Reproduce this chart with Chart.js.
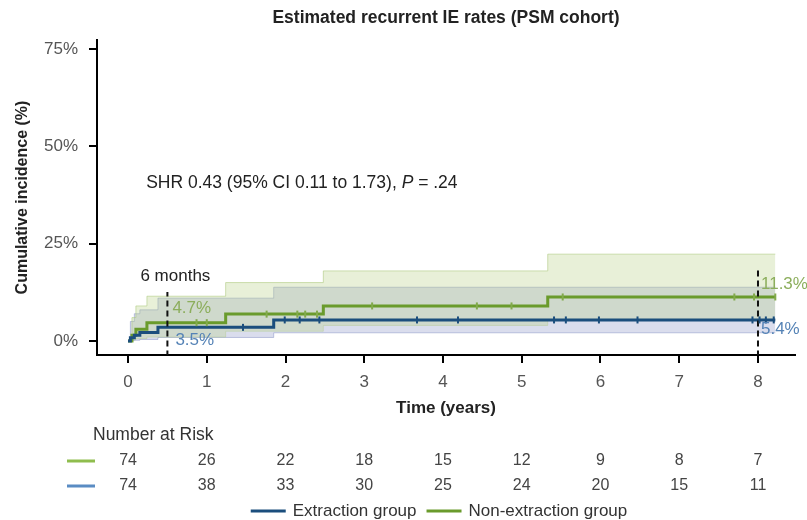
<!DOCTYPE html>
<html>
<head>
<meta charset="utf-8">
<script src="https://cdn.jsdelivr.net/npm/chart.js@4.4.1/dist/chart.umd.min.js"></script>
<style>
  html, body { margin: 0; padding: 0; background: #fff; }
  #wrap { width: 807px; height: 520px; }
</style>
</head>
<body>
<div id="wrap"><canvas id="cif" width="807" height="520"></canvas></div>
<script>
// Cumulative incidence step estimates: time in years, incidence in %
const nonExtTime  = [0, 0.05, 0.10, 0.24, 1.24, 2.48, 5.33, 8.22];
const nonExtCif   = [0, 1.5, 3.0, 4.7, 6.9, 9.0, 11.3, 11.3];
const nonExtUpper = [0, 6.0, 9.0, 11.5, 15.0, 18.0, 22.3, 22.3];
const nonExtLower = [0, 0.3, 0.6, 1.0, 2.5, 4.0, 5.5, 5.5];

const extTime  = [0, 0.03, 0.08, 0.15, 0.38, 1.85, 8.22];
const extCif   = [0, 0.8, 1.5, 2.2, 3.5, 5.4, 5.4];
const extUpper = [0, 5.0, 7.0, 8.0, 11.0, 13.8, 13.8];
const extLower = [0, 0.1, 0.2, 0.4, 0.9, 2.1, 2.1];

// censoring times
const nonExtCensor = [0.87, 1.0, 1.76, 2.15, 2.25, 2.4, 3.1, 4.43, 4.87, 5.52, 7.7, 7.95, 8.22];
const extCensor = [1.46, 1.99, 2.18, 2.43, 3.67, 4.19, 5.41, 5.56, 5.98, 6.47, 7.93, 8.02, 8.1, 8.2];

// landmark times (years)
const landmarks = [0.5, 8];

// axes
const xTicks = [0, 1, 2, 3, 4, 5, 6, 7, 8];
const yTicks = [0, 25, 50, 75];

// number at risk at each x tick
const riskNonExt = [74, 26, 22, 18, 15, 12, 9, 8, 7];
const riskExt    = [74, 38, 33, 30, 25, 24, 20, 15, 11];

const BLUE = '#1b4e7d', GREEN = '#6a9b2c';
const BLUE_TXT = '#5583b6', GREEN_TXT = '#8cae5c';
const FONT = "'Liberation Sans', Arial, sans-serif";

function stepAt(times, vals, t) {
  let v = vals[0];
  for (let i = 0; i < times.length; i++) if (times[i] <= t) v = vals[i];
  return v;
}
const pts = (xs, ys) => xs.map((x, i) => ({ x: x, y: ys[i] }));
const censorPts = (cs, xs, ys) => cs.map(t => ({ x: t, y: stepAt(xs, ys, t) }));

// stepped 'before' keeps each value flat until the next event time
const band = (data, fill, line, bg) => ({
  data: data, stepped: 'before', fill: fill, pointRadius: 0,
  borderWidth: 1, borderColor: line, backgroundColor: bg || 'rgba(0,0,0,0)', order: 10
});

const datasets = [
  // 0,1 non-extraction CI band
  band(pts(nonExtTime, nonExtUpper), { target: 1 }, 'rgba(170,198,120,0.55)', 'rgba(185,208,135,0.32)'),
  band(pts(nonExtTime, nonExtLower), false, 'rgba(170,198,120,0.35)'),
  // 2,3 extraction CI band
  band(pts(extTime, extUpper), { target: 3 }, 'rgba(120,132,190,0.45)', 'rgba(118,128,190,0.27)'),
  band(pts(extTime, extLower), false, 'rgba(120,132,190,0.45)'),
  // 4,5 estimates
  { label: 'Extraction group', data: pts(extTime, extCif), stepped: 'before', fill: false,
    borderColor: BLUE, backgroundColor: BLUE, borderWidth: 3, pointRadius: 0, order: 1 },
  { label: 'Non-extraction group', data: pts(nonExtTime, nonExtCif), stepped: 'before', fill: false,
    borderColor: GREEN, backgroundColor: GREEN, borderWidth: 3, pointRadius: 0, order: 2 },
  // 6,7 censor marks
  { data: censorPts(extCensor, extTime, extCif), showLine: false, pointStyle: 'line', rotation: 90,
    pointRadius: 3.5, borderColor: BLUE, borderWidth: 2, order: 0 },
  { data: censorPts(nonExtCensor, nonExtTime, nonExtCif), showLine: false, pointStyle: 'line', rotation: 90,
    pointRadius: 3.5, borderColor: '#82aa4c', borderWidth: 2, order: 0 },
  // 8,9 landmark lines
  { data: [{ x: landmarks[0], y: -4 }, { x: landmarks[0], y: 12.6 }], borderColor: '#111',
    borderWidth: 2, borderDash: [6, 4], pointRadius: 0, fill: false, order: 0 },
  { data: [{ x: landmarks[1], y: -4 }, { x: landmarks[1], y: 18.6 }], borderColor: '#111',
    borderWidth: 2, borderDash: [6, 4], pointRadius: 0, fill: false, order: 0 }
];

// text annotations, number-at-risk table and legend
const extras = {
  id: 'extras',
  afterDatasetsDraw(chart) {
    const { ctx, scales: { x, y } } = chart;
    ctx.save();
    ctx.textBaseline = 'middle';

    ctx.font = '17px ' + FONT;
    ctx.fillStyle = '#222';
    ctx.textAlign = 'center';
    ctx.fillText('6 months', x.getPixelForValue(landmarks[0]) + 8, y.getPixelForValue(16.7));

    const g6 = stepAt(nonExtTime, nonExtCif, landmarks[0]);
    const b6 = stepAt(extTime, extCif, landmarks[0]);
    const g8 = stepAt(nonExtTime, nonExtCif, landmarks[1]);
    const b8 = stepAt(extTime, extCif, landmarks[1]);
    ctx.textAlign = 'left';
    ctx.font = '17px ' + FONT;
    ctx.fillStyle = GREEN_TXT;
    ctx.fillText(g6.toFixed(1) + '%', x.getPixelForValue(landmarks[0]) + 5, y.getPixelForValue(g6) - 14);
    ctx.fillText(g8.toFixed(1) + '%', x.getPixelForValue(landmarks[1]) + 3, y.getPixelForValue(g8) - 13);
    ctx.fillStyle = BLUE_TXT;
    ctx.fillText(b6.toFixed(1) + '%', x.getPixelForValue(landmarks[0]) + 8, y.getPixelForValue(b6) + 13);
    ctx.fillText(b8.toFixed(1) + '%', x.getPixelForValue(landmarks[1]) + 3, y.getPixelForValue(b8) + 9);

    // SHR line with italic P
    let tx = x.getPixelForValue(0.23);
    const ty = y.getPixelForValue(40.5);
    ctx.fillStyle = '#222';
    ctx.font = '17.5px ' + FONT;
    const head = 'SHR 0.43 (95% CI 0.11 to 1.73), ';
    ctx.fillText(head, tx, ty);
    tx += ctx.measureText(head).width;
    ctx.font = 'italic 17.5px ' + FONT;
    ctx.fillText('P', tx, ty);
    tx += ctx.measureText('P').width;
    ctx.font = '17.5px ' + FONT;
    ctx.fillText(' = .24', tx, ty);
    ctx.restore();
  },
  afterDraw(chart) {
    const { ctx, chartArea, scales: { x } } = chart;
    const base = chartArea.bottom;
    ctx.save();
    ctx.textBaseline = 'middle';
    ctx.font = '17.5px ' + FONT;
    ctx.fillStyle = '#333';
    ctx.textAlign = 'left';
    ctx.fillText('Number at Risk', 93, base + 80);
    ctx.font = '16px ' + FONT;
    [[riskNonExt, '#8fbd4e', 106], [riskExt, '#5a8cc3', 131]].forEach(([row, col, dy]) => {
      ctx.fillStyle = col;
      ctx.fillRect(67, base + dy - 1.5, 28, 3);
      ctx.fillStyle = '#444';
      ctx.textAlign = 'center';
      row.forEach((n, i) => ctx.fillText(String(n), x.getPixelForValue(xTicks[i]), base + dy));
    });

    // legend for the two estimate lines
    const items = [4, 5].map(i => chart.data.datasets[i]);
    ctx.font = '17px ' + FONT;
    const sw = 35, gapTxt = 7, gapItem = 10;
    const widths = items.map(d => ctx.measureText(d.label).width);
    const total = widths.reduce((a, w) => a + sw + gapTxt + w, 0) + gapItem * (items.length - 1);
    let lx = (chartArea.left + chartArea.right) / 2 - 7 - total / 2;
    const ly = base + 156;
    ctx.textAlign = 'left';
    items.forEach((d, i) => {
      ctx.fillStyle = d.borderColor;
      ctx.fillRect(lx, ly - 1.5, sw, 3);
      lx += sw + gapTxt;
      ctx.fillStyle = '#333';
      ctx.fillText(d.label, lx, ly);
      lx += widths[i] + gapItem;
    });
    ctx.restore();
  }
};

new Chart(document.getElementById('cif'), {
  type: 'line',
  data: { datasets: datasets },
  plugins: [extras],
  options: {
    responsive: false,
    animation: false,
    layout: { padding: { left: 0, right: 12, top: 0, bottom: 0 } },
    plugins: {
      tooltip: { enabled: false },
      legend: { display: false },
      title: {
        display: true, text: 'Estimated recurrent IE rates (PSM cohort)', fullSize: false,
        color: '#222', font: { family: FONT, size: 17.5, weight: 'bold' },
        padding: { top: 8, bottom: 11 }
      }
    },
    scales: {
      x: {
        type: 'linear', min: -0.394, max: 8.47,
        afterBuildTicks: s => { s.ticks = xTicks.map(v => ({ value: v })); },
        afterFit: s => { s.height = 165; },
        border: { display: true, color: '#000', width: 2 },
        grid: { drawOnChartArea: false, drawTicks: true, tickLength: 8, color: '#000', lineWidth: 2 },
        ticks: { color: '#555', padding: 9, font: { family: FONT, size: 17 } },
        title: {
          display: true, text: 'Time (years)', color: '#222',
          font: { family: FONT, size: 17, weight: 'bold' }, padding: { top: 4, bottom: 101 }
        }
      },
      y: {
        type: 'linear', min: -3.6, max: 77.3,
        afterBuildTicks: s => { s.ticks = yTicks.map(v => ({ value: v })); },
        afterFit: s => { s.width = 97; },
        border: { display: true, color: '#000', width: 2 },
        grid: { drawOnChartArea: false, drawTicks: true, tickLength: 8, color: '#000', lineWidth: 2 },
        ticks: { color: '#555', padding: 11, font: { family: FONT, size: 17 }, callback: v => v + '%' },
        title: {
          display: true, text: 'Cumulative incidence (%)', color: '#222',
          font: { family: FONT, size: 16, weight: 'bold' }, padding: { top: 13, bottom: 0 }
        }
      }
    }
  }
});
</script>
</body>
</html>
